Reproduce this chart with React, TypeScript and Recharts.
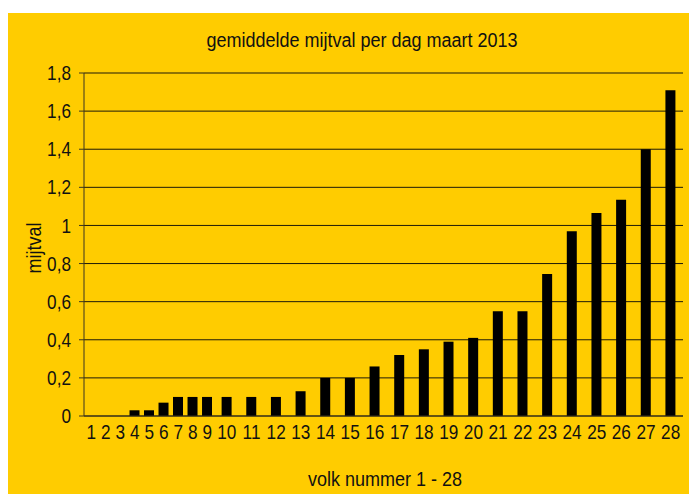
import { BarChart, Bar, XAxis, YAxis, CartesianGrid } from 'recharts';

// Values.
const volken = ['1', '2', '3', '4', '5', '6', '7', '8', '9', '10', '11', '12', '13', '14',
  '15', '16', '17', '18', '19', '20', '21', '22', '23', '24', '25', '26', '27', '28'];
const mijtval = [0, 0, 0, 0.03, 0.03, 0.07, 0.1, 0.1, 0.1, 0.1, 0.1, 0.1, 0.13, 0.2,
  0.2, 0.26, 0.32, 0.35, 0.39, 0.41, 0.55, 0.55, 0.745, 0.97, 1.065, 1.135, 1.4, 1.71];
const yTicks = [0, 0.2, 0.4, 0.6, 0.8, 1, 1.2, 1.4, 1.6, 1.8];

const C = {
  bg: '#FFCC00',
  bar: '#000000',
  grid: '#1e1a08',
  axis: '#3a3520',
  text: '#111111',
};
// condensed look: Arial-like face squeezed horizontally
const FONT = "'Liberation Sans', Arial, sans-serif";
const TICK_SQUEEZE = 0.86;
const LABEL_SQUEEZE = 0.9;

// The original spreads the category slots by label width: two-digit labels get a wider slot.
const slotWidth = (label: string) => (label.length > 1 ? 1.7 : 1);
const centers: number[] = [];
let acc = 0;
volken.forEach((v) => {
  const w = slotWidth(v);
  centers.push(acc + w / 2);
  acc += w;
});
const total = acc;

const data = volken.map((v, i) => ({ volk: v, pos: centers[i], mijtval: mijtval[i] }));

function XTick({ x, y, payload }: any) {
  const label = volken[centers.indexOf(payload.value)] ?? '';
  return (
    <text transform={`translate(${x},${y}) scale(${TICK_SQUEEZE},1)`} dy="0.71em" textAnchor="middle"
      fill={C.text} fontSize={20} fontFamily={FONT}>
      {label}
    </text>
  );
}

function YTick({ x, y, payload }: any) {
  return (
    <text transform={`translate(${x},${y}) scale(${TICK_SQUEEZE},1)`} dy="0.355em" textAnchor="end"
      fill={C.text} fontSize={20} fontFamily={FONT}>
      {String(payload.value).replace('.', ',')}
    </text>
  );
}

const labelStyle = { position: 'absolute' as const, fontSize: 20, whiteSpace: 'nowrap' as const };

export default function App() {
  return (
    <div style={{ position: 'absolute', left: 8, top: 13, width: 681, height: 481, background: C.bg, fontFamily: FONT, color: C.text }}>
      <div style={{ ...labelStyle, left: 354, top: 16, transform: `translateX(-50%) scaleX(${LABEL_SQUEEZE})` }}>
        gemiddelde mijtval per dag maart 2013
      </div>
      <div style={{ ...labelStyle, left: 26, top: 235, transform: `translate(-50%, -50%) rotate(-90deg) scaleX(${LABEL_SQUEEZE})` }}>
        mijtval
      </div>
      <div style={{ ...labelStyle, left: 377, top: 455, transform: `translateX(-50%) scaleX(${LABEL_SQUEEZE})` }}>
        volk nummer 1 - 28
      </div>
      <BarChart width={681} height={481} data={data} margin={{ top: 60, right: 6, left: 26, bottom: 48 }}>
        <CartesianGrid horizontal vertical={false} stroke={C.grid} strokeWidth={1} />
        <XAxis
          dataKey="pos"
          type="number"
          domain={[0, total]}
          ticks={centers}
          interval={0}
          tickLine={false}
          tickSize={6}
          tickMargin={3}
          axisLine={{ stroke: C.axis, strokeWidth: 1.2 }}
          tick={<XTick />}
          height={30}
        />
        <YAxis
          domain={[0, 1.8]}
          ticks={yTicks}
          interval={0}
          width={50}
          tickSize={5}
          tickMargin={8}
          tickLine={{ stroke: C.axis }}
          axisLine={{ stroke: C.axis }}
          tick={<YTick />}
        />
        <Bar dataKey="mijtval" fill={C.bar} barSize={10} isAnimationActive={false} />
      </BarChart>
    </div>
  );
}
